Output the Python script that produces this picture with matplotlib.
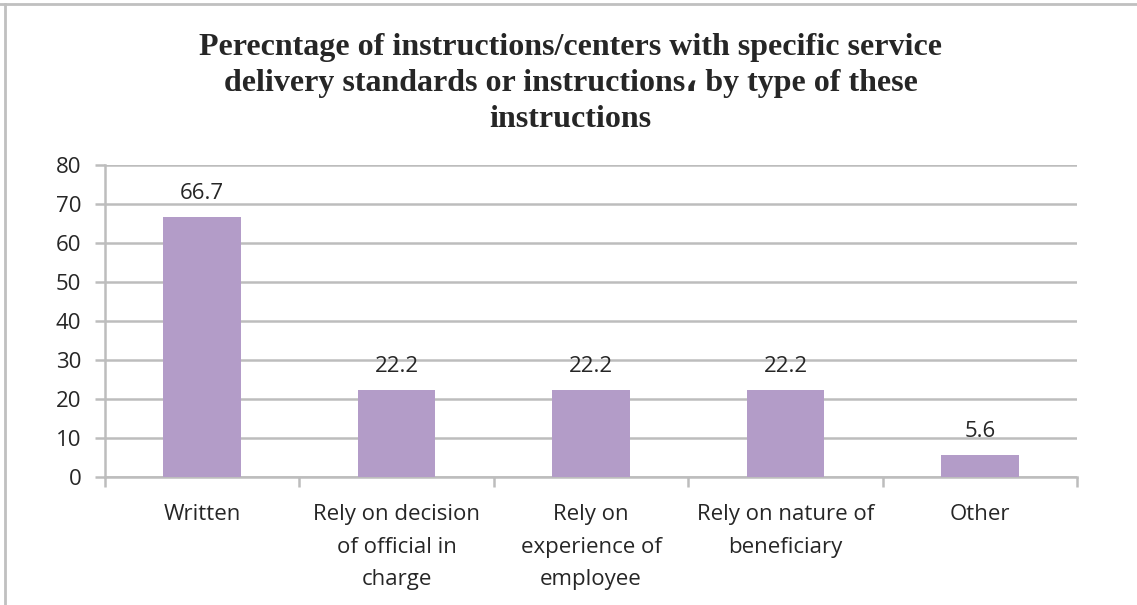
import matplotlib

matplotlib.use("Agg")
import matplotlib.pyplot as plt
from matplotlib.lines import Line2D
import matplotlib.ticker as ticker

# ── Data ────────────────────────────────────────────────────────────────────
CATEGORIES = [
    "Written",
    "Rely on decision\nof official in\ncharge",
    "Rely on\nexperience of\nemployee",
    "Rely on nature of\nbeneficiary",
    "Other",
]
PERCENTAGES = [66.7, 22.2, 22.2, 22.2, 5.6]

TITLE = ("Perecntage of instructions/centers with specific service\n"
         "delivery standards or instructions\u060c by type of these\n"
         "instructions")

# ── Style ───────────────────────────────────────────────────────────────────
BAR_COLOR = "#B39CC8"
GRID_COLOR = "#BDBDBD"
TEXT_COLOR = "#262626"
LABEL_FONT = ["Open Sans", "DejaVu Sans"]


def main() -> None:
    fig = plt.figure(figsize=(11.37, 6.05), dpi=100)
    ax = fig.add_axes([0.0923, 0.2116, 0.8550, 0.5157])

    x = range(len(CATEGORIES))
    bars = ax.bar(x, PERCENTAGES, width=0.4, color=BAR_COLOR, zorder=3)

    for rect, val in zip(bars, PERCENTAGES):
        ax.annotate(
            f"{val:.1f}",
            xy=(rect.get_x() + rect.get_width() / 2, rect.get_height()),
            xytext=(0, 9.5),
            textcoords="offset points",
            ha="center",
            va="bottom",
            fontsize=16,
            family=LABEL_FONT,
            color=TEXT_COLOR,
        )

    ax.set_xlim(-0.5, len(CATEGORIES) - 0.5)
    ax.set_ylim(0, 80)
    ax.yaxis.set_major_locator(ticker.MultipleLocator(10))
    ax.grid(True, axis="y", color=GRID_COLOR, linewidth=1.8, zorder=0)

    # category labels centred, ticks at category boundaries
    ax.set_xticks(list(x))
    ax.set_xticklabels(CATEGORIES, family=LABEL_FONT, fontsize=16,
                       color=TEXT_COLOR, linespacing=1.72)
    ax.xaxis.set_minor_locator(ticker.FixedLocator(
        [i - 0.5 for i in range(len(CATEGORIES) + 1)]))
    ax.tick_params(axis="x", which="major", length=0, pad=19.5)
    ax.tick_params(axis="x", which="minor", length=7, width=1.8,
                   color=GRID_COLOR, direction="out")
    ax.tick_params(axis="y", length=7, width=1.8, color=GRID_COLOR,
                   labelsize=16, labelcolor=TEXT_COLOR, pad=10)
    for lbl in ax.get_yticklabels():
        lbl.set_family(LABEL_FONT)

    for side in ("top", "right"):
        ax.spines[side].set_visible(False)
    for side in ("left", "bottom"):
        ax.spines[side].set_color(GRID_COLOR)
        ax.spines[side].set_linewidth(1.8)

    fig.text(0.502, 0.945, TITLE, ha="center", va="top",
             family=["Liberation Serif", "DejaVu Sans"], fontweight="bold",
             fontsize=23, color=TEXT_COLOR, linespacing=1.31)

    # partial chart border (top and left edges)
    fig.add_artist(Line2D([0.0, 1.0], [0.994, 0.994], color="#C0C0C0",
                          linewidth=2, transform=fig.transFigure))
    fig.add_artist(Line2D([0.004, 0.004], [0.0, 0.994], color="#C0C0C0",
                          linewidth=2, transform=fig.transFigure))

    fig.savefig("out.png", dpi=100, facecolor="white")
    plt.close(fig)


if __name__ == "__main__":
    main()
